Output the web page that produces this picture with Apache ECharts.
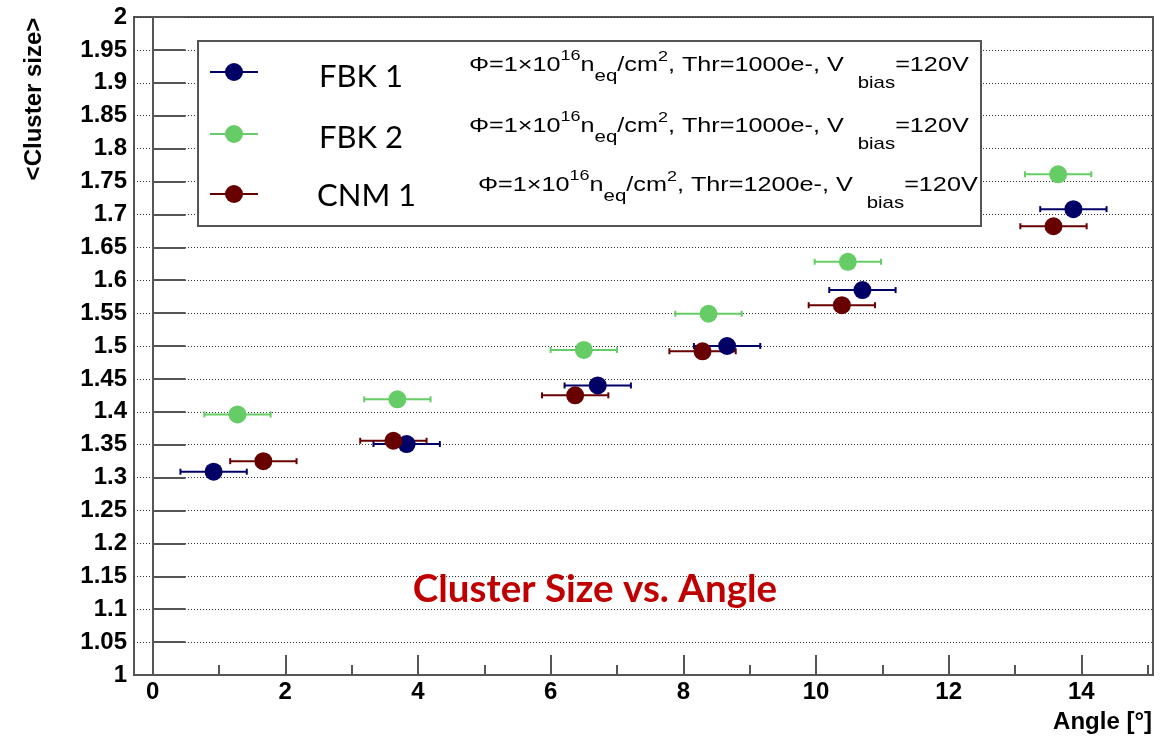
<!DOCTYPE html>
<html>
<head>
<meta charset="utf-8">
<script src="https://cdn.jsdelivr.net/npm/echarts@6/dist/echarts.min.js"></script>
<style>
html,body{margin:0;padding:0;background:#fff;}
#chart{width:1170px;height:739px;}
</style>
</head>
<body>
<div id="chart"></div>
<script>
// ---- data ----
const seriesNames = ['FBK 1', 'FBK 2', 'CNM 1'];
const thresholds = ['1000e-', '1000e-', '1200e-'];
const fbk1Angle = [0.92, 3.83, 6.71, 8.66, 10.70, 13.88];
const fbk1Size  = [1.309, 1.351, 1.440, 1.500, 1.585, 1.708];
const fbk2Angle = [1.28, 3.69, 6.50, 8.38, 10.48, 13.65];
const fbk2Size  = [1.396, 1.419, 1.494, 1.549, 1.628, 1.761];
const cnm1Angle = [1.67, 3.63, 6.37, 8.29, 10.39, 13.58];
const cnm1Size  = [1.325, 1.356, 1.425, 1.492, 1.562, 1.682];
const angleErr  = [0.5, 0.5, 0.5, 0.5, 0.5, 0.5];
const xMajorTicks = [0, 2, 4, 6, 8, 10, 12, 14];
const xMinorTicks = [1, 3, 5, 7, 9, 11, 13, 15];
const colors = ['#000066', '#66cc66', '#680000'];

const sets = [
  {x: fbk1Angle, y: fbk1Size},
  {x: fbk2Angle, y: fbk2Size},
  {x: cnm1Angle, y: cnm1Size}
];

const series = [];
sets.forEach((s, i) => {
  const pts = s.x.map((v, k) => [v, s.y[k], angleErr[k]]);
  series.push({
    type: 'custom',
    name: seriesNames[i] + ' err',
    silent: true,
    animation: false,
    encode: {x: 0, y: 1},
    data: pts,
    renderItem: function (params, api) {
      const x = api.value(0), y = api.value(1), e = api.value(2);
      const p1 = api.coord([x - e, y]);
      const p2 = api.coord([x + e, y]);
      const st = {stroke: colors[i], lineWidth: 2};
      return {
        type: 'group',
        children: [
          {type: 'line', shape: {x1: p1[0], y1: p1[1], x2: p2[0], y2: p2[1]}, style: st},
          {type: 'line', shape: {x1: p1[0], y1: p1[1] - 3, x2: p1[0], y2: p1[1] + 3}, style: st},
          {type: 'line', shape: {x1: p2[0], y1: p2[1] - 3, x2: p2[0], y2: p2[1] + 3}, style: st}
        ]
      };
    }
  });
  series.push({
    type: 'scatter',
    name: seriesNames[i],
    silent: true,
    animation: false,
    symbol: 'circle',
    symbolSize: 18,
    itemStyle: {color: colors[i], opacity: 1},
    data: s.x.map((v, k) => [v, s.y[k]])
  });
});

// legend graphics
const legendRowsY = [65, 126, 185];
const legendLabelY = [77, 138, 196];
const legendLabelX = [319, 319, 317];
const formulaX = [469, 469, 478];
const markerRowY = [72, 134, 194];
const graphics = [
  {type: 'rect', z: 100, shape: {x: 198, y: 41, width: 783, height: 185},
   style: {fill: '#fff', stroke: '#555', lineWidth: 2}}
];
const ff = 'Liberation Sans, Arial, sans-serif';
const richStyles = {
  m: {fontFamily: ff, fontSize: 21, color: '#111'},
  sup: {fontFamily: ff, fontSize: 15, padding: [0, 0, 18, 0], color: '#111'},
  sup2: {fontFamily: ff, fontSize: 15, padding: [0, 0, 16, 0], color: '#111'},
  sub: {fontFamily: ff, fontSize: 17, padding: [23, 0, 0, 0], color: '#111'},
  bias: {fontFamily: ff, fontSize: 17, padding: [37, 0, 0, 0], color: '#111'}
};
seriesNames.forEach((name, i) => {
  graphics.push({type: 'line', z: 101, shape: {x1: 210, y1: markerRowY[i], x2: 258, y2: markerRowY[i]},
    style: {stroke: colors[i], lineWidth: 2}});
  graphics.push({type: 'circle', z: 102, shape: {cx: 234, cy: markerRowY[i], r: 9},
    style: {fill: colors[i]}});
  graphics.push({type: 'text', z: 101, x: legendLabelX[i], y: legendLabelY[i],
    style: {text: name, fontFamily: 'Lato, sans-serif', fontSize: 31, fill: '#000',
      align: 'left', verticalAlign: 'middle'}});
  graphics.push({type: 'text', z: 101, x: formulaX[i], y: legendRowsY[i], scaleX: 1.2, scaleY: 1,
    style: {
      text: '{m|\u03A6=1\u00D710}{sup|16}{m|n}{sub|eq}{m|/cm}{sup2|2}{m|, Thr=' + thresholds[i] + ', V  }{bias|bias}{m|=120V}',
      rich: richStyles, align: 'left', verticalAlign: 'middle'
    }});
});
graphics.push({type: 'text', z: 101, x: 595, y: 590,
  style: {text: 'Cluster Size vs. Angle', fontFamily: 'Lato, sans-serif', fontWeight: 'bold',
    fontSize: 38.5, fill: '#c00000', align: 'center', verticalAlign: 'middle'}});
graphics.push({type: 'text', z: 101, x: 34, y: 99, rotation: Math.PI / 2,
  style: {text: '<Cluster size>', fontFamily: ff, fontWeight: 'bold',
    fontSize: 24, fill: '#000', align: 'center', verticalAlign: 'middle'}});
graphics.push({type: 'text', z: 101, x: 1152, y: 722,
  style: {text: 'Angle [\u00B0]', fontFamily: ff, fontWeight: 'bold',
    fontSize: 24, fill: '#000', align: 'right', verticalAlign: 'middle'}});

const labelFont = {fontFamily: ff, fontWeight: 'bold', fontSize: 24, color: '#000'};
const chart = echarts.init(document.getElementById('chart'), null, {renderer: 'canvas'});
chart.setOption({
  animation: false,
  backgroundColor: '#fff',
  grid: {left: 134, right: 17, top: 17, bottom: 64, show: true, borderColor: '#555', borderWidth: 2, backgroundColor: 'transparent'},
  xAxis: [{
    type: 'value', min: -0.28, max: 15.08,
    axisLine: {show: true, lineStyle: {color: '#555', width: 2}},
    axisTick: {show: true, inside: true, length: 20, customValues: xMajorTicks, lineStyle: {color: '#555', width: 2}},
    axisLabel: Object.assign({show: true, margin: 5, customValues: xMajorTicks}, labelFont),
    splitLine: {show: false}
  }, {
    type: 'value', min: -0.28, max: 15.08, position: 'bottom',
    axisLine: {show: false},
    axisTick: {show: true, inside: true, length: 10, customValues: xMinorTicks, lineStyle: {color: '#555', width: 2}},
    axisLabel: {show: false},
    splitLine: {show: false}
  }],
  yAxis: {
    type: 'value', min: 1, max: 2, interval: 0.05,
    axisLine: {show: true, lineStyle: {color: '#555', width: 2}},
    axisTick: {show: true, inside: true, length: 33, lineStyle: {color: '#555', width: 2}},
    axisLabel: Object.assign({margin: 7}, labelFont),
    splitLine: {show: true, lineStyle: {type: [1, 2], color: '#333', width: 1}}
  },
  graphic: graphics,
  series: series
});
</script>
</body>
</html>
